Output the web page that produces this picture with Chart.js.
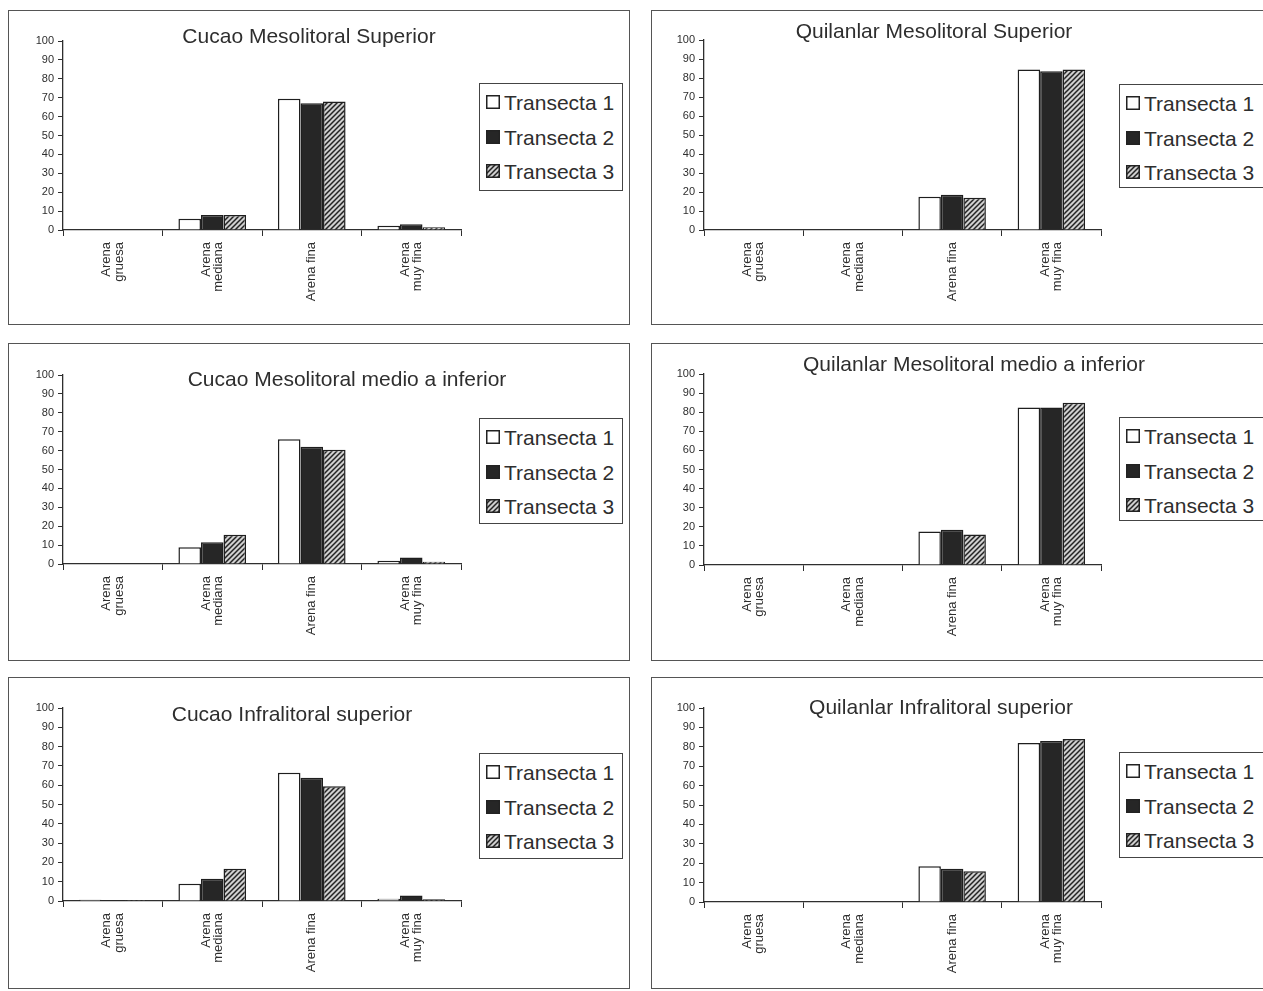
<!DOCTYPE html>
<html>
<head>
<meta charset="utf-8">
<script src="https://cdn.jsdelivr.net/npm/chart.js@4"></script>
<style>
  html, body { margin: 0; padding: 0; background: #fff; overflow: hidden; }
  body { width: 1263px; height: 991px; position: relative; font-family: "Liberation Sans", Arial, sans-serif; color: #333; }
  .panel { position: absolute; border: 1px solid #555; background: #fff; overflow: hidden; }
  .panel canvas.chart { position: absolute; left: 0; top: 0; }
  .title { position: absolute; font-size: 21px; white-space: nowrap; transform: translate(-50%, -50%); color: #2e2e2e; }
  .legend { position: absolute; border: 1px solid #444; background: #fff; padding-top: 2px; box-sizing: border-box; }
  .legend div { height: 34.5px; line-height: 34.5px; font-size: 21px; white-space: nowrap; padding-left: 6px; color: #2e2e2e; }
  .legend canvas { vertical-align: middle; margin-right: 4px; position: relative; top: -2px; }
</style>
</head>
<body>
<script>
// categories and series
const categories = [["Arena", "gruesa"], ["Arena", "mediana"], "Arena fina", ["Arena", "muy fina"]];
const seriesNames = ["Transecta 1", "Transecta 2", "Transecta 3"];
const yTicks = [0, 100, 10]; // min, max, step

const titles = [
  "Cucao Mesolitoral Superior",
  "Quilanlar Mesolitoral Superior",
  "Cucao Mesolitoral medio a inferior",
  "Quilanlar Mesolitoral medio a inferior",
  "Cucao Infralitoral superior",
  "Quilanlar Infralitoral superior"
];

// values per panel: one row per transecta
const cucaoMesoSup = [
  [0, 6, 69.5, 2.3],
  [0, 8, 67, 3],
  [0, 8, 68, 1.5]
];
const quilanlarMesoSup = [
  [0, 0, 17.5, 84.5],
  [0, 0, 18.5, 83.5],
  [0, 0, 17, 84.5]
];
const cucaoMesoMedio = [
  [0, 8.8, 66, 1.7],
  [0, 11.5, 62, 3.4],
  [0, 15.5, 60.5, 1.2]
];
const quilanlarMesoMedio = [
  [0, 0, 17.5, 82.5],
  [0, 0, 18.5, 82.5],
  [0, 0, 16, 85]
];
const cucaoInfraSup = [
  [0.7, 9, 66.5, 1.2],
  [0.5, 11.5, 63.8, 2.9],
  [0.5, 16.7, 59.5, 0.9]
];
const quilanlarInfraSup = [
  [0, 0, 18.4, 82],
  [0, 0, 17.2, 83],
  [0, 0, 15.8, 84]
];

const panelValues = [cucaoMesoSup, quilanlarMesoSup, cucaoMesoMedio, quilanlarMesoMedio, cucaoInfraSup, quilanlarInfraSup];

// layout of each panel (page pixels)
const boxes = [
  { x: 8, y: 10, w: 622, h: 315, plot: [54, 452, 30, 219], leg: [470, 72, 144, 108], tt: [300, 25] },
  { x: 651, y: 10, w: 625, h: 315, plot: [52, 449, 29, 219], leg: [467, 73, 152, 104], tt: [282, 20] },
  { x: 8, y: 343, w: 622, h: 318, plot: [54, 452, 31, 220], leg: [470, 74, 144, 106], tt: [338, 35] },
  { x: 651, y: 343, w: 625, h: 318, plot: [52, 449, 30, 221], leg: [467, 73, 152, 104], tt: [322, 20] },
  { x: 8, y: 677, w: 622, h: 312, plot: [54, 452, 30, 223], leg: [470, 75, 144, 106], tt: [283, 36] },
  { x: 651, y: 677, w: 625, h: 312, plot: [52, 449, 30, 224], leg: [467, 74, 152, 106], tt: [289, 29] }
];

const FONT = "'Liberation Sans', Arial, sans-serif";
const INK = "#2e2e2e";

function hatchPattern() {
  const c = document.createElement("canvas");
  c.width = 5; c.height = 5;
  const g = c.getContext("2d");
  g.fillStyle = "#cfcfcf";
  g.fillRect(0, 0, 5, 5);
  g.strokeStyle = "#222";
  g.lineWidth = 1.5;
  g.beginPath();
  g.moveTo(0, 5); g.lineTo(5, 0);
  g.moveTo(-1, 1); g.lineTo(1, -1);
  g.moveTo(4, 6); g.lineTo(6, 4);
  g.stroke();
  return g.createPattern(c, "repeat");
}

const fills = ["#ffffff", "#262626", hatchPattern()];

// center multi-line rotated category labels on their tick (Chart.js stacks them after the tick)
const centerLabelLines = {
  id: "centerLabelLines",
  beforeDraw(chart) {
    const s = chart.scales.x;
    const items = s.getLabelItems(chart.chartArea);
    items.forEach((it) => {
      const n = Array.isArray(it.label) ? it.label.length : 1;
      if (n > 1 && !it._centered) {
        it.options.translation[0] -= (n - 1) * it.font.lineHeight / 2;
        it._centered = true;
      }
    });
  }
};

boxes.forEach((b, p) => {
  const panel = document.createElement("div");
  panel.className = "panel";
  Object.assign(panel.style, { left: b.x + "px", top: b.y + "px", width: (b.w - 2) + "px", height: (b.h - 2) + "px" });
  document.body.appendChild(panel);

  const canvas = document.createElement("canvas");
  canvas.className = "chart";
  canvas.width = b.w - 2;
  canvas.height = b.h - 2;
  panel.appendChild(canvas);

  const [pl, pr, pt, pb] = b.plot;

  const chart = new Chart(canvas, {
    type: "bar",
    data: {
      labels: categories,
      datasets: seriesNames.map((name, i) => ({
        label: name,
        data: panelValues[p][i],
        backgroundColor: fills[i],
        borderColor: "#1e1e1e",
        borderWidth: 1.5,
        categoryPercentage: 0.68,
        barPercentage: 1
      }))
    },
    options: {
      responsive: false,
      animation: false,
      layout: { padding: { left: 0, top: pt, right: canvas.width - pr, bottom: 0 } },
      plugins: {
        legend: { display: false },
        title: { display: false },
        tooltip: { enabled: false }
      },
      scales: {
        x: {
          grid: { drawOnChartArea: false, tickLength: 6, color: INK, offset: true },
          border: { color: INK, width: 1.3 },
          ticks: { autoSkip: false, maxRotation: 90, minRotation: 90, padding: 6, color: INK, font: { family: FONT, size: 13, lineHeight: 0.95 } },
          afterFit: (s) => { s.height = canvas.height - pb; }
        },
        y: {
          min: yTicks[0],
          max: yTicks[1],
          grid: { drawOnChartArea: false, tickLength: 5, color: INK },
          border: { color: INK, width: 1.3 },
          ticks: { stepSize: yTicks[2], padding: 4, color: INK, font: { family: FONT, size: 11 } },
          afterFit: (s) => { s.width = pl; }
        }
      }
    },
    plugins: [centerLabelLines]
  });

  const title = document.createElement("div");
  title.className = "title";
  title.textContent = titles[p];
  title.style.left = b.tt[0] + "px";
  title.style.top = b.tt[1] + "px";
  panel.appendChild(title);

  // html legend from the chart's own datasets
  const leg = document.createElement("div");
  leg.className = "legend";
  Object.assign(leg.style, { left: b.leg[0] + "px", top: b.leg[1] + "px", width: b.leg[2] + "px", height: b.leg[3] + "px" });
  chart.data.datasets.forEach((ds) => {
    const row = document.createElement("div");
    const mk = document.createElement("canvas");
    mk.width = 14; mk.height = 14;
    const g = mk.getContext("2d");
    g.fillStyle = ds.backgroundColor;
    g.fillRect(0, 0, 14, 14);
    g.strokeStyle = "#222";
    g.lineWidth = 1.5;
    g.strokeRect(0.75, 0.75, 12.5, 12.5);
    row.appendChild(mk);
    row.appendChild(document.createTextNode(ds.label));
    leg.appendChild(row);
  });
  panel.appendChild(leg);
});
</script>
</body>
</html>
